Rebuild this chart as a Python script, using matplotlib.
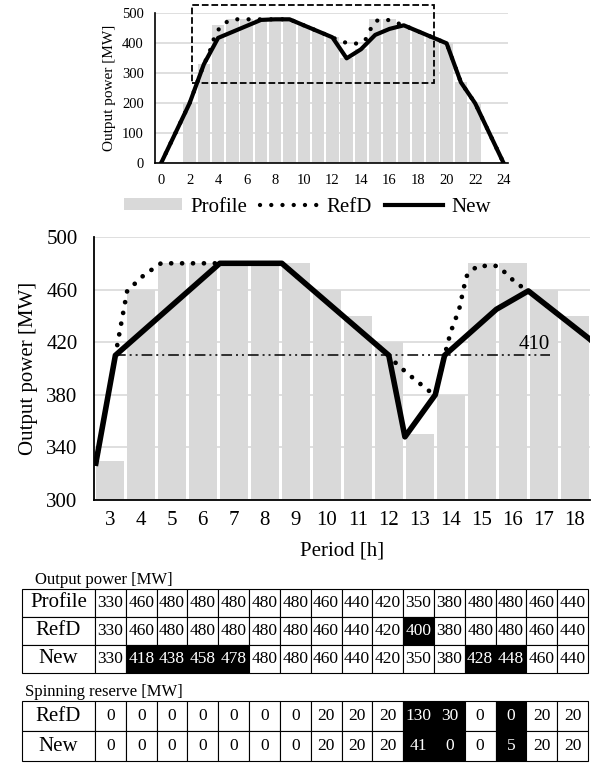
import numpy as np
import matplotlib.pyplot as plt
from matplotlib.patches import Rectangle

plt.rcParams['font.family'] = ['Liberation Serif', 'DejaVu Serif']

# overview chart: hourly profile bars (periods 2..22)
hours = np.arange(2, 23)
profile_day = [200, 330, 460, 480, 480, 480, 480, 480, 460, 440, 420,
               350, 380, 480, 480, 460, 440, 420, 400, 270, 200]

# overview lines
new_day_t = [0, 2, 3, 4, 5, 6, 7, 8, 9, 10, 11, 12, 13, 14, 15, 16, 17,
             18, 19, 20, 21, 22, 24]
new_day = [0, 200, 330, 418, 438, 458, 478, 480, 480, 460, 440, 420, 350,
           380, 428, 448, 460, 440, 420, 400, 270, 200, 0]
refd_day_t = [0, 2, 3, 3.4, 3.6, 3.9, 4.3, 5, 9, 10, 11, 12, 12.4, 13.2,
              13.9, 14.3, 14.6, 15, 15.6, 16.4, 16.8, 17, 18, 19, 20, 21,
              22, 24]
refd_day = [0, 200, 330, 370, 403, 437, 464, 480, 480, 460, 440, 420, 411,
            398, 400, 410, 441, 474, 481, 472, 462, 460, 440, 420, 400, 270,
            200, 0]

# zoomed chart, periods 3..18
periods = np.arange(3, 19)
profile = [330, 460, 480, 480, 480, 480, 480, 460, 440, 420, 350, 380,
           480, 480, 460, 440]
new_zoom_t = [2.55, 3.18, 6.55, 8.55, 12.0, 12.52, 13.5, 13.8, 15.47,
              16.5, 18.5, 19.5]
new_zoom = [328, 410, 480, 480, 410, 348, 380, 410, 445, 459, 422, 400]
refd_zoom_t = [2.55, 3.18, 3.56, 4.1, 4.65, 8.55, 12.0, 12.27, 12.82,
               13.35, 13.5, 13.8, 14.0, 14.27, 14.5, 14.85, 15.5, 15.8,
               16.1, 16.5, 18.5, 19.5]
refd_zoom = [328, 410, 459, 471, 480, 480, 410, 403, 392, 382, 380, 410,
             428, 445, 470, 478, 478, 472, 465, 459, 422, 400]
level = 410
level_t = [3.18, 17.2]

# tables
refd_out = [330, 460, 480, 480, 480, 480, 480, 460, 440, 420, 400, 380,
            480, 480, 460, 440]
new_out = [330, 418, 438, 458, 478, 480, 480, 460, 440, 420, 350, 380,
           428, 448, 460, 440]
refd_sr = [0, 0, 0, 0, 0, 0, 0, 20, 20, 20, 130, 30, 0, 0, 20, 20]
new_sr = [0, 0, 0, 0, 0, 0, 0, 20, 20, 20, 41, 0, 0, 5, 20, 20]
hl_out = {'RefD': [10], 'New': [1, 2, 3, 4, 12, 13]}
hl_sr = {'RefD': [10, 11, 13], 'New': [10, 11, 13]}

bar_c = '#d9d9d9'
grid_c = '#d9d9d9'
dots = (0, (0.01, 2.6))

fig = plt.figure(figsize=(5.98, 7.65), dpi=100)

# ---- overview
ax1 = fig.add_axes([0.2592, 0.7865, 0.5908, 0.1961])
bars = ax1.bar(hours, profile_day, width=0.87, color=bar_c, label='Profile', zorder=1)
l_ref, = ax1.plot(refd_day_t, refd_day, color='black', lw=3.1, linestyle=dots,
                  dash_capstyle='round', label='RefD', zorder=3)
l_new, = ax1.plot(new_day_t, new_day, color='black', lw=3, label='New', zorder=4)
ax1.set_xlim(-0.42, 24.32)
ax1.set_ylim(0, 500)
ax1.set_xticks(range(0, 25, 2))
ax1.set_yticks(range(0, 501, 100))
ax1.yaxis.grid(True, color=grid_c, lw=1.2, zorder=0)
ax1.set_axisbelow(True)
for s in ['top', 'right']:
    ax1.spines[s].set_visible(False)
ax1.spines['left'].set_linewidth(1.2)
ax1.spines['bottom'].set_linewidth(1.2)
ax1.tick_params(length=0, labelsize=10.5)
ax1.tick_params(axis='y', pad=8)
ax1.tick_params(axis='x', pad=8)
ax1.set_ylabel('Output power [MW]', fontsize=11, labelpad=4)
ax1.add_patch(Rectangle((2.2, 269), 16.95, 260, fill=False, ls='--',
                        lw=1.3, color='black', clip_on=False, zorder=5))
fig.legend([bars, l_ref, l_new], ['Profile', 'RefD', 'New'], loc='center',
           ncol=3, bbox_to_anchor=(0.514, 0.7294), frameon=False, fontsize=15,
           handlelength=2.8, handleheight=0.45, handletextpad=0.4,
           columnspacing=0.6, borderaxespad=0, borderpad=0)

# ---- zoomed chart
ax2 = fig.add_axes([0.1577, 0.3464, 0.8294, 0.3438])
ax2.bar(periods, profile, width=0.915, color=bar_c, zorder=1)
ax2.plot(refd_zoom_t, refd_zoom, color='black', lw=3.4, linestyle=(0, (0.01, 2.3)),
         dash_capstyle='round', zorder=3)
ax2.plot(new_zoom_t, new_zoom, color='black', lw=4, zorder=4)
ax2.plot(level_t, [level, level], color='black', lw=1.1,
         linestyle=(0, (7, 2.6, 1.3, 2.6, 1.3, 2.6)), zorder=3)
ax2.text(16.7, level + 1, str(level), fontsize=15, ha='center', va='bottom')
ax2.set_xlim(2.5, 18.5)
ax2.set_ylim(300, 500)
ax2.set_xticks(periods)
ax2.set_yticks(range(300, 501, 40))
ax2.yaxis.grid(True, color=grid_c, lw=1.2, zorder=0)
ax2.set_axisbelow(True)
for s in ['top', 'right']:
    ax2.spines[s].set_visible(False)
ax2.spines['left'].set_linewidth(1.3)
ax2.spines['bottom'].set_linewidth(1.3)
ax2.tick_params(length=0, labelsize=15)
ax2.tick_params(axis='y', pad=12)
ax2.tick_params(axis='x', pad=8)
ax2.set_ylabel('Output power [MW]', fontsize=15, labelpad=6)
ax2.set_xlabel('Period [h]', fontsize=15, labelpad=8)


def draw_table(rect, rows, highlight, fs):
    ax = fig.add_axes(rect)
    ax.axis('off')
    text = [[name] + [str(v) for v in vals] for name, vals in rows]
    ncol = len(text[0])
    colours = [['white'] * ncol for _ in text]
    for i, (name, vals) in enumerate(rows):
        for j in highlight.get(name, []):
            colours[i][j + 1] = 'black'
    w0 = 0.1294
    widths = [w0] + [(1 - w0) / (ncol - 1)] * (ncol - 1)
    tb = ax.table(cellText=text, cellColours=colours, colWidths=widths,
                  cellLoc='center', bbox=[0, 0, 1, 1])
    tb.auto_set_font_size(False)
    for (r, c), cell in tb.get_celld().items():
        cell.set_linewidth(0.8)
        cell.PAD = 0.02
        cell.get_text().set_fontsize(15 if c == 0 else fs)
        if colours[r][c] == 'black':
            cell.get_text().set_color('white')
    return ax


fig.text(35 / 598, 1 - 580 / 765, 'Output power [MW]', fontsize=12,
         va='center', ha='left')
draw_table([0.0363, 0.1203, 0.947, 0.1098],
           [('Profile', profile), ('RefD', refd_out), ('New', new_out)],
           hl_out, 12.5)

fig.text(25 / 598, 1 - 692 / 765, 'Spinning reserve [MW]', fontsize=12,
         va='center', ha='left')
draw_table([0.0363, 0.0052, 0.947, 0.0784],
           [('RefD', refd_sr), ('New', new_sr)], hl_sr, 12.5)

fig.savefig('out.png', dpi=100)
